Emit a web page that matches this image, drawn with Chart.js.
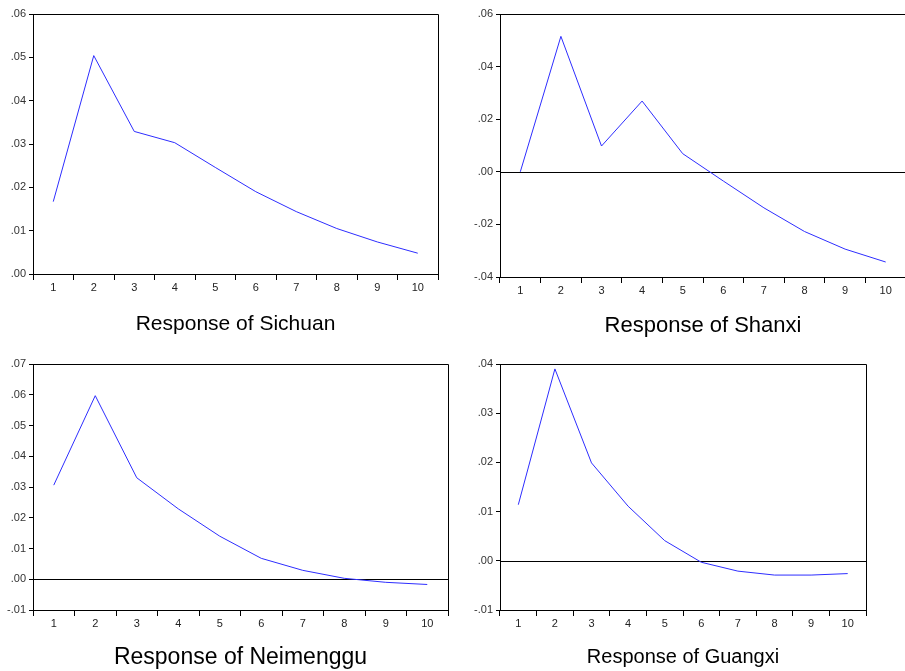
<!DOCTYPE html>
<html>
<head>
<meta charset="utf-8">
<script src="https://cdn.jsdelivr.net/npm/chart.js@4.4.0/dist/chart.umd.min.js"></script>
<style>
    html, body { margin: 0; padding: 0; background: #fff; overflow: hidden; width: 905px; height: 671px; }
    canvas { position: absolute; }
</style>
</head>
<body>
<canvas id="c1" style="left:0px;top:0px"></canvas>
<canvas id="c2" style="left:455px;top:0px"></canvas>
<canvas id="c3" style="left:0px;top:350px"></canvas>
<canvas id="c4" style="left:455px;top:350px"></canvas>
<script>
// periods after the shock
var periods = ['1', '2', '3', '4', '5', '6', '7', '8', '9', '10'];

// impulse responses
var sichuan   = [0.0167, 0.0504, 0.0329, 0.0303, 0.0246, 0.0190, 0.0144, 0.0105, 0.0074, 0.0048];
var shanxi    = [0.0000, 0.0515, 0.0098, 0.0269, 0.0069, -0.0035, -0.0137, -0.0227, -0.0294, -0.0343];
var neimenggu = [0.0306, 0.0597, 0.0330, 0.0229, 0.0140, 0.0068, 0.0029, 0.0003, -0.0010, -0.0017];
var guangxi   = [0.0114, 0.0390, 0.0199, 0.0111, 0.0041, -0.0003, -0.0021, -0.0029, -0.0029, -0.0026];

// y axis ranges [min, max, step]
var sichuanRange   = [0, 0.06, 0.01];
var shanxiRange    = [-0.04, 0.06, 0.02];
var neimengguRange = [-0.01, 0.07, 0.01];
var guangxiRange   = [-0.01, 0.04, 0.01];

function fmt(v) {
    var s = Math.abs(v).toFixed(2).replace(/^0/, '');
    return (v < -1e-9 ? '-' : '') + s;
}

// top/right frame + zero line
var framePlugin = {
    id: 'frame',
    beforeDatasetsDraw: function(chart) {
        var a = chart.chartArea, y = chart.scales.y, ctx = chart.ctx;
        if (y.min < 0) {
            var py = Math.round(y.getPixelForValue(0)) + 0.5;
            ctx.save();
            ctx.strokeStyle = '#000';
            ctx.lineWidth = 1;
            ctx.beginPath();
            ctx.moveTo(a.left, py);
            ctx.lineTo(a.right, py);
            ctx.stroke();
            ctx.restore();
        }
    },
    afterDraw: function(chart) {
        var a = chart.chartArea, ctx = chart.ctx;
        ctx.save();
        ctx.strokeStyle = '#000';
        ctx.lineWidth = 1;
        ctx.beginPath();
        ctx.moveTo(a.left, Math.round(a.top) + 0.5);
        ctx.lineTo(Math.round(a.right) + 0.5, Math.round(a.top) + 0.5);
        ctx.lineTo(Math.round(a.right) + 0.5, a.bottom);
        ctx.stroke();
        ctx.restore();
    }
};

function makePanel(id, w, h, values, range, title, p) {
    var cv = document.getElementById(id);
    cv.width = w;
    cv.height = h;
    return new Chart(cv.getContext('2d'), {
        type: 'line',
        data: {
            labels: periods,
            datasets: [{
                data: values,
                borderColor: 'rgb(45,45,255)',
                borderWidth: 1,
                pointRadius: 0,
                tension: 0,
                fill: false
            }]
        },
        options: {
            responsive: false,
            animation: false,
            devicePixelRatio: 1,
            layout: { padding: { top: 14, right: p.right, left: 0, bottom: 0 } },
            plugins: {
                legend: { display: false },
                tooltip: { enabled: false },
                title: {
                    display: true,
                    text: title,
                    position: 'bottom',
                    fullSize: false,
                    color: '#000',
                    font: { family: 'Arial, "Liberation Sans"', size: p.size, weight: 'normal', lineHeight: 1.2 },
                    padding: { top: p.pt, bottom: p.pb }
                }
            },
            scales: {
                x: {
                    offset: true,
                    grid: { offset: true, drawOnChartArea: false, tickLength: 6, color: '#000' },
                    border: { color: '#000', width: 1 },
                    ticks: {
                        color: '#222', padding: 1, maxRotation: 0, autoSkip: false,
                        font: { family: 'Arial, "Liberation Sans"', size: 11 }
                    },
                    afterFit: function(s) { s.height = 26; }
                },
                y: {
                    min: range[0],
                    max: range[1],
                    grid: { drawOnChartArea: false, tickLength: 4, color: '#000' },
                    border: { color: '#000', width: 1 },
                    ticks: {
                        stepSize: range[2],
                        color: '#333', padding: 3,
                        font: { family: 'Arial, "Liberation Sans"', size: 11 },
                        callback: function(v) { return fmt(v); }
                    },
                    afterFit: function(s) { s.width = p.yw; }
                }
            }
        },
        plugins: [framePlugin]
    });
}

makePanel('c1', 460, 345, sichuan, sichuanRange, 'Response of Sichuan',
    { right: 22, yw: 33, size: 21, pt: 12, pb: 7.8 });
makePanel('c2', 451, 345, shanxi, shanxiRange, 'Response of Shanxi',
    { right: 0, yw: 45, size: 22, pt: 10, pb: 5.6 });
makePanel('c3', 470, 325, neimenggu, neimengguRange, 'Response of Neimenggu',
    { right: 22, yw: 33, size: 23, pt: 8.2, pb: 3.2 });
makePanel('c4', 433, 325, guangxi, guangxiRange, 'Response of Guangxi',
    { right: 22, yw: 45, size: 20, pt: 9, pb: 6 });
</script>
</body>
</html>
